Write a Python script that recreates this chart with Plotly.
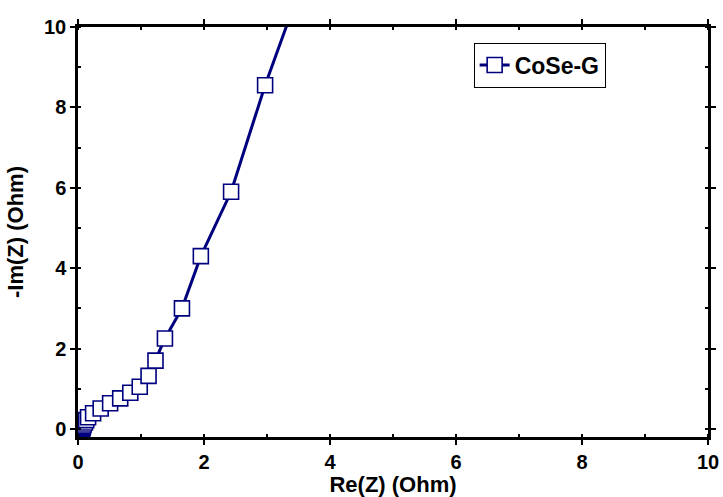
import plotly.graph_objects as go

re_z = [0.065, 0.07, 0.075, 0.08, 0.09, 0.11, 0.13, 0.16, 0.24, 0.36, 0.51, 0.67, 0.83,
        0.98, 1.12, 1.23, 1.38, 1.65, 1.95, 2.43, 2.97, 3.65]
im_z = [0.0, 0.02, 0.04, 0.07, 0.11, 0.16, 0.22, 0.29, 0.39, 0.51, 0.64, 0.76, 0.90,
        1.05, 1.32, 1.70, 2.25, 3.00, 4.30, 5.90, 8.55, 11.5]
series_name = "CoSe-G"
tick_vals = [0, 2, 4, 6, 8, 10]

navy = "#00007f"
font_family = "Liberation Sans, Arial, sans-serif"

fig = go.Figure()
fig.add_trace(go.Scatter(
    x=re_z, y=im_z, name=series_name, mode="lines+markers",
    line=dict(color=navy, width=3),
    marker=dict(symbol="square", size=15, color="white",
                line=dict(color=navy, width=1.6)),
))

axis_common = dict(
    automargin=False,
    showline=True, linecolor="black", linewidth=2.5, mirror="ticks",
    ticks="outside", ticklen=5, tickwidth=2, tickcolor="black",
    showgrid=False, zeroline=False,
    tickfont=dict(family=font_family, size=20, color="black", weight="bold"),
    tickvals=tick_vals,
    minor=dict(ticks="inside", ticklen=3, tickwidth=1.5, tickcolor="black", dtick=1),
)

title_font = dict(family=font_family, size=22, color="black", weight="bold")

fig.update_layout(
    template="none",
    width=723, height=497,
    margin=dict(l=78, r=15, t=27, b=60, autoexpand=False),
    paper_bgcolor="white", plot_bgcolor="white",
    showlegend=True,
    legend=dict(x=0.628, y=0.962, xanchor="left", yanchor="top",
                bordercolor="black", borderwidth=1, bgcolor="white",
                font=dict(family=font_family, size=23, color="black", weight="bold"),
                tracegroupgap=0),
    xaxis=dict(range=[0, 10],
               title=dict(text="Re(Z) (Ohm)", font=title_font),
               **axis_common),
    yaxis=dict(range=[-0.2, 10],
               title=dict(text="-Im(Z) (Ohm)", font=title_font),
               **axis_common),
)

fig.write_html(
    "out.html",
    config={"displayModeBar": False},
    post_script="document.body.style.margin='0';document.body.style.overflow='hidden';",
)
